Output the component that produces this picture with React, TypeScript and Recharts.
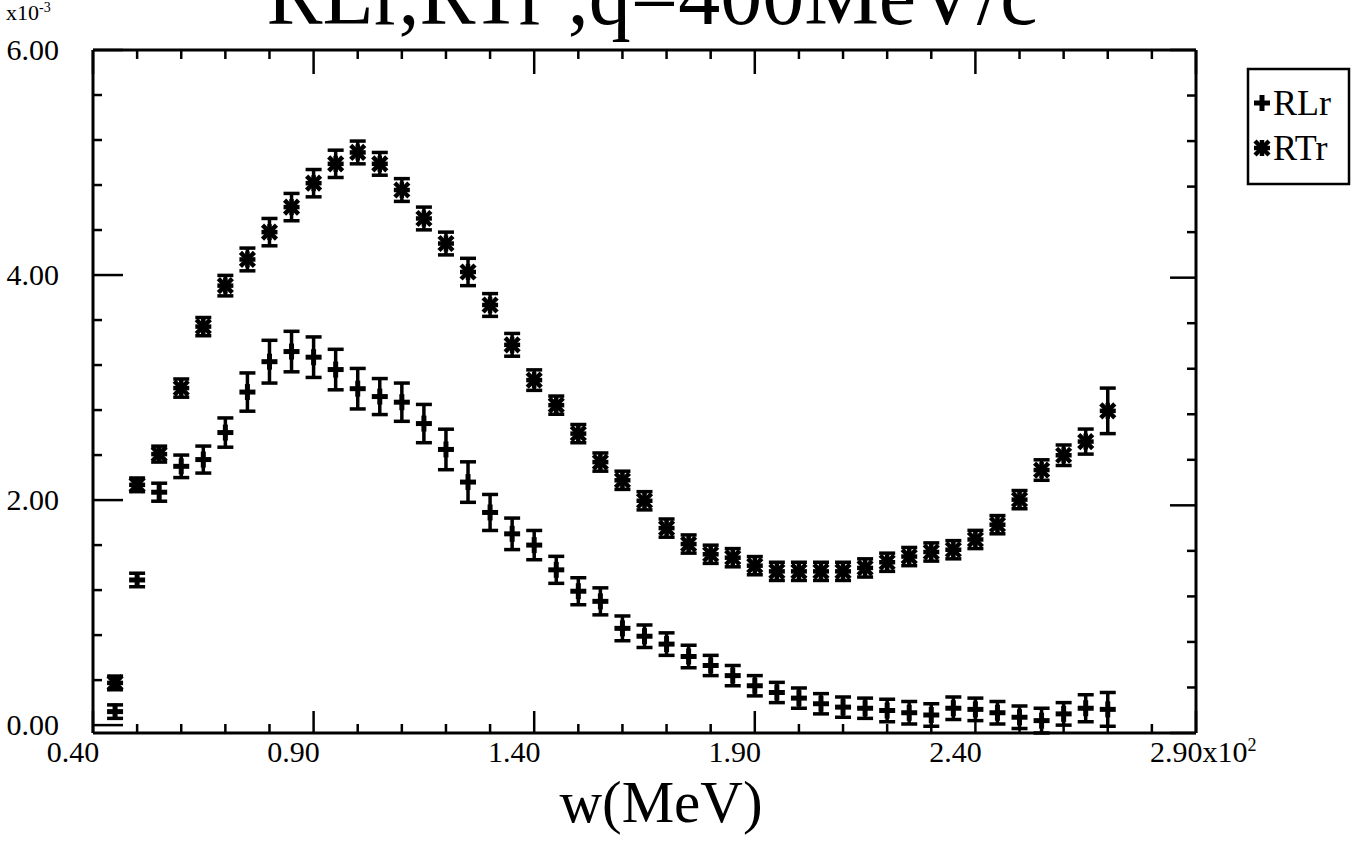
import React from 'react';
import { ScatterChart, Scatter, XAxis, YAxis, ErrorBar } from 'recharts';

// energy transfer w, in units of 100 MeV
const wValues = [
  0.45, 0.5, 0.55, 0.6, 0.65, 0.7, 0.75, 0.8, 0.85, 0.9,
  0.95, 1.0, 1.05, 1.1, 1.15, 1.2, 1.25, 1.3, 1.35, 1.4,
  1.45, 1.5, 1.55, 1.6, 1.65, 1.7, 1.75, 1.8, 1.85, 1.9,
  1.95, 2.0, 2.05, 2.1, 2.15, 2.2, 2.25, 2.3, 2.35, 2.4,
  2.45, 2.5, 2.55, 2.6, 2.65, 2.7,
];

// longitudinal response (x10^-3)
const rlValues = [
  0.12, 1.29, 2.07, 2.3, 2.36, 2.6, 2.96, 3.23, 3.32, 3.27,
  3.16, 2.99, 2.92, 2.87, 2.68, 2.45, 2.16, 1.89, 1.7, 1.6,
  1.38, 1.19, 1.1, 0.86, 0.79, 0.72, 0.61, 0.53, 0.44, 0.35,
  0.29, 0.24, 0.19, 0.16, 0.15, 0.13, 0.11, 0.09, 0.15, 0.14,
  0.11, 0.07, 0.04, 0.1, 0.15, 0.14,
];
const rlErrors = [
  0.06, 0.06, 0.08, 0.1, 0.12, 0.13, 0.17, 0.19, 0.18, 0.18,
  0.18, 0.18, 0.16, 0.17, 0.17, 0.18, 0.18, 0.16, 0.14, 0.13,
  0.12, 0.12, 0.12, 0.11, 0.1, 0.1, 0.1, 0.09, 0.09, 0.09,
  0.09, 0.09, 0.09, 0.09, 0.09, 0.1, 0.1, 0.1, 0.1, 0.1,
  0.1, 0.1, 0.11, 0.1, 0.12, 0.15,
];

// transverse response (x10^-3)
const rtValues = [
  0.44, 2.18, 2.45, 3.03, 3.57, 3.93, 4.16, 4.4, 4.62, 4.83,
  5.0, 5.1, 5.0, 4.77, 4.52, 4.3, 4.05, 3.76, 3.41, 3.1,
  2.88, 2.63, 2.38, 2.22, 2.04, 1.8, 1.66, 1.57, 1.54, 1.47,
  1.42, 1.42, 1.42, 1.42, 1.45, 1.5, 1.55, 1.59, 1.61, 1.7,
  1.83, 2.05, 2.31, 2.44, 2.56, 2.83,
];
const rtErrors = [
  0.06, 0.06, 0.07, 0.08, 0.08, 0.09, 0.1, 0.12, 0.12, 0.12,
  0.12, 0.1, 0.1, 0.1, 0.1, 0.1, 0.12, 0.1, 0.1, 0.09,
  0.08, 0.08, 0.08, 0.08, 0.08, 0.08, 0.08, 0.08, 0.08, 0.08,
  0.08, 0.08, 0.08, 0.08, 0.08, 0.08, 0.08, 0.08, 0.08, 0.08,
  0.08, 0.08, 0.09, 0.09, 0.11, 0.2,
];

const xTicks = [
  0.4, 0.5, 0.6, 0.7, 0.8, 0.9, 1.0, 1.1, 1.2, 1.3, 1.4, 1.5, 1.6,
  1.7, 1.8, 1.9, 2.0, 2.1, 2.2, 2.3, 2.4, 2.5, 2.6, 2.7, 2.8, 2.9,
];
const xMajorTicks = [0.4, 0.9, 1.4, 1.9, 2.4, 2.9];
const xTickLabels = ['0.40', '0.90', '1.40', '1.90', '2.40', '2.90'];

const yTicks = [0, 0.4, 0.8, 1.2, 1.6, 2.0, 2.4, 2.8, 3.2, 3.6, 4.0, 4.4, 4.8, 5.2, 5.6, 6.0];
const yMajorTicks = [0, 2, 4, 6];
const yTickLabels = ['0.00', '2.00', '4.00', '6.00'];

const rlData = wValues.map((w, i) => ({ w, value: rlValues[i], err: rlErrors[i] }));
const rtData = wValues.map((w, i) => ({ w, value: rtValues[i], err: rtErrors[i] }));

const FONT = '"Liberation Serif", "DejaVu Serif", serif';
const INK = '#000';

const majorIndex = (list: number[], v: number) =>
  list.findIndex((m) => Math.abs(m - v) < 1e-6);

const BottomTick = ({ x, y, payload }: any) => {
  const i = majorIndex(xMajorTicks, payload.value);
  const len = i >= 0 ? 22 : 9;
  const last = i === xTickLabels.length - 1;
  return (
    <g>
      <line x1={x} y1={y} x2={x} y2={y - len} stroke={INK} strokeWidth={2.5} />
      {i >= 0 && !last && (
        <text x={x - 20} y={y + 29} textAnchor="middle" fontSize={30} fontFamily={FONT} fill={INK}>
          {xTickLabels[i]}
        </text>
      )}
      {last && (
        <text x={x - 46} y={y + 29} textAnchor="start" fontSize={30} fontFamily={FONT} fill={INK}>
          {xTickLabels[i]}x10
          <tspan dy={-11} fontSize={18}>2</tspan>
        </text>
      )}
    </g>
  );
};

const TopTick = ({ x, y, payload }: any) => {
  const len = majorIndex(xMajorTicks, payload.value) >= 0 ? 24 : 9;
  return <line x1={x} y1={y} x2={x} y2={y + len} stroke={INK} strokeWidth={2.5} />;
};

const LeftTick = ({ x, y, payload }: any) => {
  const i = majorIndex(yMajorTicks, payload.value);
  const len = i >= 0 ? 30 : 9;
  return (
    <g>
      <line x1={x} y1={y} x2={x + len} y2={y} stroke={INK} strokeWidth={2.5} />
      {i >= 0 && (
        <text x={x - 34} y={y + 10} textAnchor="end" fontSize={30} fontFamily={FONT} fill={INK}>
          {yTickLabels[i]}
        </text>
      )}
    </g>
  );
};

const RightTick = ({ x, y, payload }: any) => {
  const len = majorIndex(yMajorTicks, payload.value) >= 0 ? 26 : 9;
  return <line x1={x} y1={y} x2={x - len} y2={y} stroke={INK} strokeWidth={2.5} />;
};

// heavy "+" marker for RLr
const PlusMark = ({ cx, cy }: any) => (
  <g stroke={INK} strokeWidth={5}>
    <line x1={cx - 8} y1={cy} x2={cx + 8} y2={cy} />
    <line x1={cx} y1={cy - 8} x2={cx} y2={cy + 8} />
  </g>
);

// heavy asterisk marker for RTr
const StarMark = ({ cx, cy }: any) => (
  <g stroke={INK} strokeWidth={4.5}>
    <line x1={cx - 8} y1={cy} x2={cx + 8} y2={cy} />
    <line x1={cx} y1={cy - 8} x2={cx} y2={cy + 8} />
    <line x1={cx - 7} y1={cy - 7} x2={cx + 7} y2={cy + 7} />
    <line x1={cx - 7} y1={cy + 7} x2={cx + 7} y2={cy - 7} />
  </g>
);

const axisLine = { stroke: INK, strokeWidth: 3 };

export default function App() {
  return (
    <div style={{ position: 'absolute', left: 0, top: 0, width: 1365, height: 857, background: '#fff' }}>
      <ScatterChart width={1365} height={857} margin={{ top: 0, right: 0, bottom: 0, left: 0 }}>
        <XAxis
          xAxisId="bottom"
          dataKey="w"
          type="number"
          orientation="bottom"
          domain={[0.4, 2.9]}
          ticks={xTicks}
          interval={0}
          height={124}
          tickSize={0}
          tickMargin={0}
          tickLine={false}
          axisLine={axisLine}
          tick={<BottomTick />}
        />
        <XAxis
          xAxisId="top"
          dataKey="w"
          type="number"
          orientation="top"
          domain={[0.4, 2.9]}
          ticks={xTicks}
          interval={0}
          height={50}
          tickSize={0}
          tickMargin={0}
          tickLine={false}
          axisLine={axisLine}
          tick={<TopTick />}
        />
        <YAxis
          yAxisId="left"
          dataKey="value"
          type="number"
          orientation="left"
          domain={[0, 6]}
          ticks={yTicks}
          interval={0}
          width={93}
          tickSize={0}
          tickMargin={0}
          tickLine={false}
          axisLine={axisLine}
          tick={<LeftTick />}
        />
        <YAxis
          yAxisId="right"
          dataKey="value"
          type="number"
          orientation="right"
          domain={[0, 6]}
          ticks={yTicks}
          interval={0}
          width={169}
          tickSize={0}
          tickMargin={0}
          tickLine={false}
          axisLine={axisLine}
          tick={<RightTick />}
        />
        <Scatter
          name="RLr"
          data={rlData}
          xAxisId="bottom"
          yAxisId="left"
          shape={<PlusMark />}
          isAnimationActive={false}
        >
          <ErrorBar dataKey="err" direction="y" width={8} strokeWidth={3.5} stroke={INK} />
        </Scatter>
        <Scatter
          name="RTr"
          data={rtData}
          xAxisId="top"
          yAxisId="right"
          shape={<StarMark />}
          isAnimationActive={false}
        >
          <ErrorBar dataKey="err" direction="y" width={8} strokeWidth={3.5} stroke={INK} />
        </Scatter>
      </ScatterChart>

      <svg
        width={1365}
        height={857}
        style={{ position: 'absolute', left: 0, top: 0, pointerEvents: 'none' }}
        fontFamily={FONT}
        fill={INK}
      >
        <text x={652} y={24} fontSize={84} textAnchor="middle">
          RLr,RTr ,q=400MeV/c
        </text>
        <text x={6} y={20} fontSize={22}>
          x10<tspan dy={-8} fontSize={14}>-3</tspan>
        </text>
        <text x={661} y={822} fontSize={59} textAnchor="middle">
          w(MeV)
        </text>

        <rect x={1248} y={69} width={101} height={115} fill="none" stroke={INK} strokeWidth={2.5} />
        <PlusMark cx={1262} cy={103} />
        <text x={1273} y={115} fontSize={36}>RLr</text>
        <StarMark cx={1262} cy={148} />
        <text x={1273} y={160} fontSize={36}>RTr</text>
      </svg>
    </div>
  );
}
